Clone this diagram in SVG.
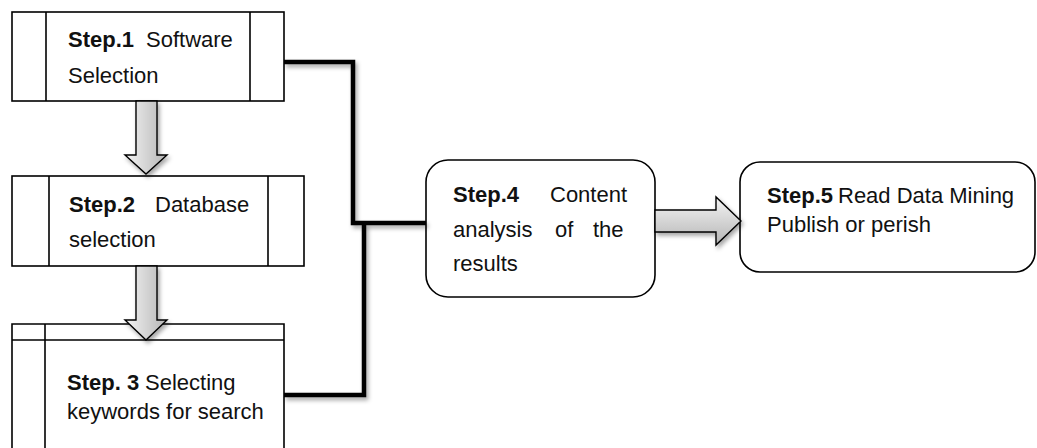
<svg xmlns="http://www.w3.org/2000/svg" width="1037" height="448" viewBox="0 0 1037 448">
<style>
.box{fill:#fff;stroke:#000;stroke-width:1.6}
.ln{fill:none;stroke:#000;stroke-width:1.6}
.t{font-family:"Liberation Sans",Arial,sans-serif;font-size:22px;fill:#111}
.b{font-weight:bold}
.arrow{stroke:#000;stroke-width:1.4;filter:url(#sh)}
.conn{fill:none;stroke:#000;stroke-width:4.5;filter:url(#sh)}
</style>
<defs>
<linearGradient id="gv" x1="0" y1="0" x2="1" y2="0"><stop offset="0" stop-color="#f4f4f4"/><stop offset="1" stop-color="#b5b5b5"/></linearGradient>
<linearGradient id="gh" x1="0" y1="0" x2="0" y2="1"><stop offset="0" stop-color="#f4f4f4"/><stop offset="1" stop-color="#b5b5b5"/></linearGradient>
<filter id="sh" x="-20%" y="-20%" width="150%" height="150%"><feDropShadow dx="2" dy="3" stdDeviation="2" flood-color="#000" flood-opacity="0.35"/></filter>
</defs>
<g id="step1">
<rect class="box" x="12" y="12" width="272" height="89"/>
<line class="ln" x1="46" y1="12" x2="46" y2="101"/>
<line class="ln" x1="250" y1="12" x2="250" y2="101"/>
<text class="t" y="47"><tspan x="68" class="b">Step.1</tspan><tspan x="146">Software</tspan></text>
<text class="t" x="68" y="83">Selection</text>
</g>
<g id="step2">
<rect class="box" x="12" y="176" width="292" height="90"/>
<line class="ln" x1="49" y1="176" x2="49" y2="266"/>
<line class="ln" x1="268" y1="176" x2="268" y2="266"/>
<text class="t" y="212"><tspan x="69" class="b">Step.2</tspan><tspan x="155">Database</tspan></text>
<text class="t" x="69" y="247">selection</text>
</g>
<g id="step3">
<path class="box" d="M12,460 V324 H284 V460"/>
<line class="ln" x1="12" y1="340" x2="284" y2="340"/>
<line class="ln" x1="45" y1="324" x2="45" y2="460"/>
<text class="t" y="390"><tspan x="67" class="b">Step. 3</tspan><tspan x="145">Selecting</tspan></text>
<text class="t" x="67" y="419">keywords for search</text>
</g>
<g id="step4">
<rect class="box" x="426" y="160" width="229" height="137" rx="22"/>
<text class="t" y="202"><tspan x="453" class="b">Step.4</tspan><tspan x="550">Content</tspan></text>
<text class="t" y="237"><tspan x="453">analysis</tspan><tspan x="555">of</tspan><tspan x="593">the</tspan></text>
<text class="t" x="453" y="271">results</text>
</g>
<g id="step5">
<rect class="box" x="740" y="162" width="295" height="110" rx="20"/>
<text class="t" y="203"><tspan x="767" class="b">Step.5</tspan><tspan x="838">Read Data Mining</tspan></text>
<text class="t" x="767" y="232">Publish or perish</text>
</g>
<g id="connectors">
<polyline class="conn" points="284,62 353,62 353,223 426,223"/>
<polyline class="conn" points="284,395 364,395 364,224"/>
<path class="arrow" fill="url(#gv)" d="M136,101 H157 V155 H167 L146,174 L125,155 H136 Z"/>
<path class="arrow" fill="url(#gv)" d="M136,266 H157 V320 H167 L146,340 L125,320 H136 Z"/>
<path class="arrow" fill="url(#gh)" d="M655,210 H716 V197 L741,221 L716,245 V232 H655 Z"/>
</g>
</svg>
